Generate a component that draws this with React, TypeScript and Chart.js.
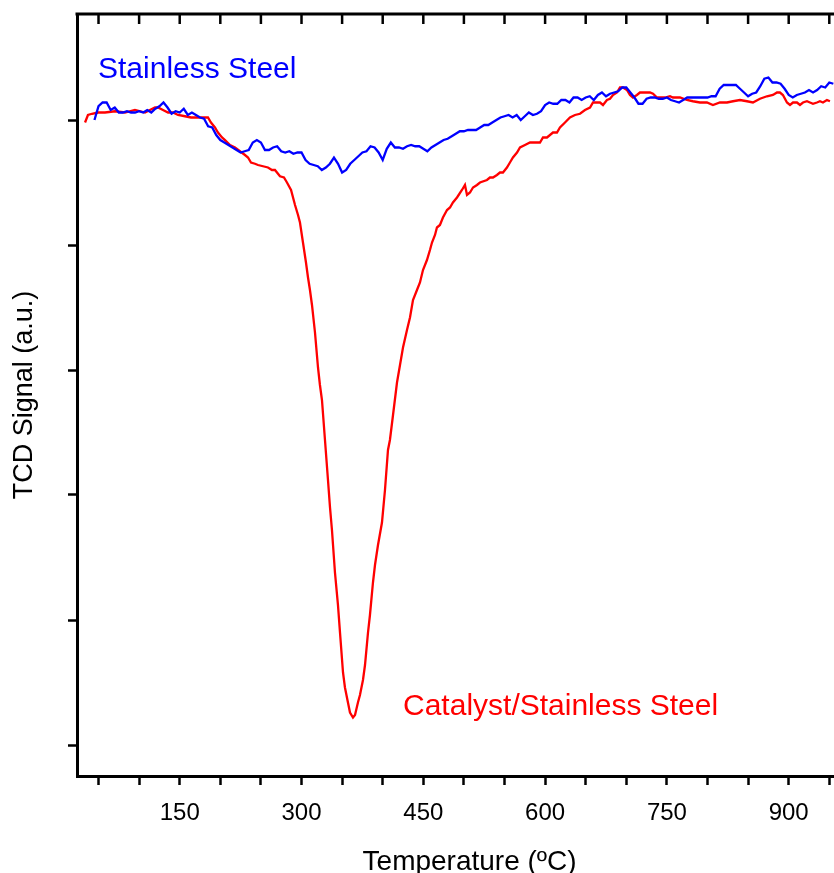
import React, { useEffect, useRef } from "react";
import { Chart, registerables } from "chart.js";

Chart.register(...registerables);

// ---- axis ticks ----
const xTickValues = [50, 100, 150, 200, 250, 300, 350, 400, 450, 500, 550, 600, 650, 700, 750, 800, 850, 900, 950];
const xLabelValues = [150, 300, 450, 600, 750, 900];
const yTickValues = [0, 1, 2, 3, 4, 5];

// ---- Stainless Steel (blue) ----
const blueTemp = [
  45, 50, 55, 60, 65, 70, 75, 80, 85, 90, 95, 100, 105, 110, 115, 120, 125, 130, 135, 140,
  145, 150, 155, 160, 165, 170, 175, 180, 185, 190, 195, 200, 205, 210, 215, 220, 225, 230, 235, 240,
  245, 250, 255, 260, 265, 270, 275, 280, 285, 290, 295, 300, 305, 310, 315, 320, 325, 330, 335, 340,
  345, 350, 355, 360, 365, 370, 375, 380, 385, 390, 395, 400, 405, 410, 415, 420, 425, 430, 435, 440,
  445, 450, 455, 460, 465, 470, 475, 480, 485, 490, 495, 500, 505, 510, 515, 520, 525, 530, 535, 540,
  545, 550, 555, 560, 565, 570, 575, 580, 585, 590, 595, 600, 605, 610, 615, 620, 625, 630, 635, 640,
  645, 650, 655, 660, 665, 670, 675, 680, 685, 690, 695, 700, 705, 710, 715, 720, 725, 730, 735, 740,
  745, 750, 755, 760, 765, 770, 775, 780, 785, 790, 795, 800, 805, 810, 815, 820, 825, 830, 835, 840,
  845, 850, 855, 860, 865, 870, 875, 880, 885, 890, 895, 900, 905, 910, 915, 920, 925, 930, 935, 940,
  945, 950, 955,
];
const blueSignal = [
  5.00, 5.11, 5.14, 5.14, 5.08, 5.10, 5.06, 5.06, 5.07, 5.06, 5.06, 5.07, 5.06, 5.08, 5.06, 5.09, 5.11, 5.14, 5.10, 5.05,
  5.07, 5.06, 5.09, 5.04, 5.06, 5.04, 5.02, 5.01, 4.95, 4.94, 4.88, 4.84, 4.82, 4.80, 4.78, 4.76, 4.74, 4.75, 4.76, 4.82,
  4.84, 4.82, 4.76, 4.76, 4.78, 4.79, 4.75, 4.74, 4.75, 4.73, 4.74, 4.74, 4.68, 4.65, 4.64, 4.63, 4.60, 4.62, 4.65, 4.70,
  4.65, 4.58, 4.60, 4.65, 4.68, 4.71, 4.74, 4.75, 4.79, 4.78, 4.74, 4.68, 4.77, 4.82, 4.78, 4.78, 4.77, 4.79, 4.80, 4.79,
  4.79, 4.77, 4.75, 4.78, 4.80, 4.82, 4.84, 4.85, 4.87, 4.89, 4.91, 4.91, 4.92, 4.92, 4.92, 4.94, 4.96, 4.96, 4.98, 5.00,
  5.02, 5.03, 5.04, 5.02, 5.04, 5.00, 5.03, 5.06, 5.04, 5.05, 5.07, 5.12, 5.14, 5.13, 5.13, 5.16, 5.16, 5.14, 5.18, 5.18,
  5.16, 5.18, 5.19, 5.16, 5.20, 5.22, 5.19, 5.21, 5.22, 5.23, 5.26, 5.26, 5.22, 5.18, 5.13, 5.13, 5.17, 5.18, 5.18, 5.17,
  5.17, 5.18, 5.16, 5.15, 5.14, 5.16, 5.18, 5.18, 5.18, 5.18, 5.18, 5.18, 5.19, 5.19, 5.25, 5.28, 5.28, 5.28, 5.28, 5.25,
  5.22, 5.19, 5.21, 5.22, 5.27, 5.33, 5.34, 5.30, 5.30, 5.29, 5.25, 5.20, 5.18, 5.20, 5.21, 5.22, 5.24, 5.22, 5.24, 5.27,
  5.26, 5.30, 5.29,
];

// ---- Catalyst/Stainless Steel (red) ----
const redTemp = [
  33.4, 37.0, 42.0, 49.4, 58.0, 70.3, 82.6, 94.9, 107.2, 119.6, 123.3, 129.4, 135.6, 141.7, 147.9, 156.5, 163.9, 170.0, 176.2, 181.1,
  184.8, 188.5, 193.4, 197.1, 202.1, 205.8, 211.9, 218.1, 224.2, 230.4, 234.1, 237.8, 242.7, 246.4, 252.6, 258.7, 263.6, 267.3, 273.5, 278.4,
  282.1, 287.1, 292.0, 295.7, 298.1, 301.8, 305.5, 308.0, 310.4, 312.9, 316.6, 320.3, 322.7, 325.2, 328.9, 332.6, 335.1, 337.5, 341.2, 344.9,
  347.4, 351.1, 353.5, 357.2, 359.7, 363.4, 365.9, 369.5, 372.0, 375.7, 378.2, 381.9, 384.3, 388.0, 390.5, 394.2, 399.1, 402.8, 406.5, 408.9,
  412.7, 417.6, 421.3, 425.0, 429.9, 433.6, 437.3, 442.2, 445.9, 449.6, 454.5, 458.2, 460.7, 464.4, 466.8, 470.5, 474.2, 479.2, 482.9, 486.5,
  491.5, 497.6, 501.3, 503.8, 507.5, 511.2, 516.1, 519.8, 528.4, 532.1, 535.8, 540.7, 544.4, 548.1, 553.0, 556.7, 560.4, 565.4, 569.1, 575.2,
  581.4, 587.5, 593.7, 597.4, 602.3, 609.7, 614.6, 618.3, 624.5, 630.6, 636.8, 643.0, 649.1, 655.3, 659.0, 663.9, 667.6, 671.3, 676.2, 679.9,
  683.6, 688.5, 692.2, 695.9, 700.8, 704.5, 708.2, 713.1, 716.8, 720.5, 725.5, 729.2, 732.9, 737.8, 741.5, 747.7, 753.8, 757.5, 762.4, 766.1,
  774.7, 782.1, 790.7, 799.3, 806.7, 815.3, 824.0, 831.4, 840.0, 848.6, 856.0, 864.6, 873.2, 880.6, 885.6, 889.2, 892.9, 897.9, 901.6, 905.3,
  910.2, 913.9, 917.6, 922.5, 926.2, 929.9, 934.8, 938.5, 942.2, 947.1, 950.8,
];
const redSignal = [
  4.98, 5.04, 5.05, 5.06, 5.06, 5.07, 5.06, 5.08, 5.06, 5.10, 5.10, 5.08, 5.06, 5.06, 5.04, 5.03, 5.02, 5.02, 5.02, 5.02,
  5.02, 4.98, 4.94, 4.90, 4.86, 4.84, 4.80, 4.78, 4.75, 4.72, 4.70, 4.66, 4.65, 4.64, 4.63, 4.62, 4.60, 4.60, 4.55, 4.54,
  4.50, 4.44, 4.32, 4.24, 4.18, 4.02, 3.86, 3.74, 3.64, 3.52, 3.30, 3.02, 2.88, 2.76, 2.44, 2.12, 1.90, 1.72, 1.38, 1.12,
  0.90, 0.58, 0.46, 0.34, 0.26, 0.22, 0.24, 0.34, 0.40, 0.52, 0.64, 0.90, 1.04, 1.30, 1.44, 1.60, 1.78, 2.04, 2.36, 2.44,
  2.64, 2.90, 3.04, 3.18, 3.32, 3.42, 3.56, 3.64, 3.70, 3.80, 3.88, 3.96, 4.02, 4.08, 4.14, 4.16, 4.22, 4.28, 4.30, 4.34,
  4.38, 4.44, 4.48, 4.40, 4.42, 4.46, 4.48, 4.50, 4.52, 4.54, 4.54, 4.56, 4.58, 4.58, 4.62, 4.66, 4.70, 4.74, 4.78, 4.80,
  4.82, 4.82, 4.82, 4.86, 4.86, 4.90, 4.90, 4.94, 4.98, 5.02, 5.04, 5.05, 5.08, 5.10, 5.14, 5.14, 5.14, 5.12, 5.16, 5.17,
  5.20, 5.22, 5.26, 5.26, 5.24, 5.20, 5.18, 5.20, 5.22, 5.22, 5.22, 5.22, 5.21, 5.18, 5.18, 5.18, 5.19, 5.18, 5.18, 5.18,
  5.16, 5.15, 5.14, 5.14, 5.12, 5.14, 5.14, 5.15, 5.16, 5.15, 5.14, 5.17, 5.19, 5.20, 5.22, 5.22, 5.20, 5.14, 5.12, 5.14,
  5.14, 5.12, 5.14, 5.15, 5.14, 5.13, 5.14, 5.15, 5.14, 5.16, 5.15,
];

// ---- in-plot labels (data coordinates) ----
const blueLabel = { text: "Stainless Steel", temp: 49.4, signal: 5.34 };
const redLabel = { text: "Catalyst/Stainless Steel", temp: 425, signal: 0.24 };
const xTitle = { text: "Temperature (ºC)", temp: 507 };

const X_MIN = 23.5;
const X_MAX = 955.8;
const Y_MIN = -0.248;
const Y_MAX = 5.848;

const FONT = "'Liberation Sans', Arial, Helvetica, sans-serif";

export default function App() {
  const ref = useRef<HTMLCanvasElement>(null);

  useEffect(() => {
    if (!ref.current) return;

    const topFrame = {
      id: "topFrame",
      afterDraw(chart: any) {
        const { ctx, chartArea } = chart;
        const xs = chart.scales.x;
        ctx.save();
        ctx.strokeStyle = "#000";
        ctx.lineWidth = 3;
        ctx.beginPath();
        ctx.moveTo(chartArea.left - 1.5, chartArea.top);
        ctx.lineTo(chartArea.right, chartArea.top);
        ctx.stroke();
        ctx.lineWidth = 2.5;
        xs.ticks.forEach((t: any) => {
          const px = xs.getPixelForValue(t.value);
          ctx.beginPath();
          ctx.moveTo(px, chartArea.top);
          ctx.lineTo(px, chartArea.top + 10);
          ctx.stroke();
        });
        // x-axis title (centred on the original full plot width)
        ctx.font = `28px ${FONT}`;
        ctx.fillStyle = "#000";
        ctx.textAlign = "center";
        ctx.textBaseline = "alphabetic";
        ctx.fillText(xTitle.text, xs.getPixelForValue(xTitle.temp), chart.height - 3);
        ctx.restore();
      },
    };

    const curveLabels = {
      id: "curveLabels",
      afterDatasetsDraw(chart: any) {
        const { ctx } = chart;
        const xs = chart.scales.x;
        const ys = chart.scales.y;
        ctx.save();
        ctx.font = `30px ${FONT}`;
        ctx.textAlign = "left";
        ctx.textBaseline = "alphabetic";
        ctx.fillStyle = "#0000FF";
        ctx.fillText(blueLabel.text, xs.getPixelForValue(blueLabel.temp), ys.getPixelForValue(blueLabel.signal));
        ctx.fillStyle = "#FF0000";
        ctx.fillText(redLabel.text, xs.getPixelForValue(redLabel.temp), ys.getPixelForValue(redLabel.signal));
        ctx.restore();
      },
    };

    const chart = new Chart(ref.current, {
      type: "line",
      data: {
        datasets: [
          {
            label: "Stainless Steel",
            data: blueTemp.map((t, i) => ({ x: t, y: blueSignal[i] })),
            borderColor: "#0000FF",
            borderWidth: 2.3,
            pointRadius: 0,
            pointHoverRadius: 0,
            tension: 0,
            fill: false,
          },
          {
            label: "Catalyst/Stainless Steel",
            data: redTemp.map((t, i) => ({ x: t, y: redSignal[i] })),
            borderColor: "#FF0000",
            borderWidth: 2.3,
            pointRadius: 0,
            pointHoverRadius: 0,
            tension: 0,
            fill: false,
          },
        ],
      },
      options: {
        responsive: false,
        animation: false,
        devicePixelRatio: 1,
        layout: { autoPadding: false, padding: { top: 14, right: 0, left: 0, bottom: 0 } },
        plugins: {
          legend: { display: false },
          tooltip: { enabled: false },
        },
        scales: {
          x: {
            type: "linear",
            position: "bottom",
            min: X_MIN,
            max: X_MAX,
            afterBuildTicks: (scale: any) => {
              scale.ticks = xTickValues.map((v) => ({ value: v }));
            },
            afterFit: (scale: any) => {
              scale.height = 97;
              scale.paddingLeft = 0;
              scale.paddingRight = 0;
            },
            ticks: {
              autoSkip: false,
              maxRotation: 0,
              padding: 14,
              color: "#000",
              font: { family: FONT, size: 24, lineHeight: 1.2 },
              callback: (v: any) => (xLabelValues.includes(Number(v)) ? String(v) : ""),
            },
            grid: {
              drawOnChartArea: false,
              drawTicks: true,
              tickLength: 9,
              tickWidth: 2.5,
              tickColor: "#000",
            },
            border: { display: true, color: "#000", width: 3 },
            title: { display: false },
          },
          y: {
            type: "linear",
            position: "left",
            min: Y_MIN,
            max: Y_MAX,
            afterBuildTicks: (scale: any) => {
              scale.ticks = yTickValues.map((v) => ({ value: v }));
            },
            afterFit: (scale: any) => {
              scale.width = 77;
            },
            ticks: {
              color: "#000",
              callback: () => "",
            },
            grid: {
              drawOnChartArea: false,
              drawTicks: true,
              tickLength: 9,
              tickWidth: 2.5,
              tickColor: "#000",
            },
            border: { display: true, color: "#000", width: 3 },
            title: {
              display: true,
              text: "TCD Signal (a.u.)",
              color: "#000",
              font: { family: FONT, size: 27, lineHeight: 1 },
              padding: { top: 11, bottom: 0 },
            },
          },
        },
      },
      plugins: [topFrame, curveLabels],
    } as any);

    return () => chart.destroy();
  }, []);

  return (
    <div style={{ position: "absolute", left: 0, top: 0, width: 834, height: 873, background: "#fff" }}>
      <canvas ref={ref} width={834} height={873} style={{ display: "block" }} />
    </div>
  );
}
